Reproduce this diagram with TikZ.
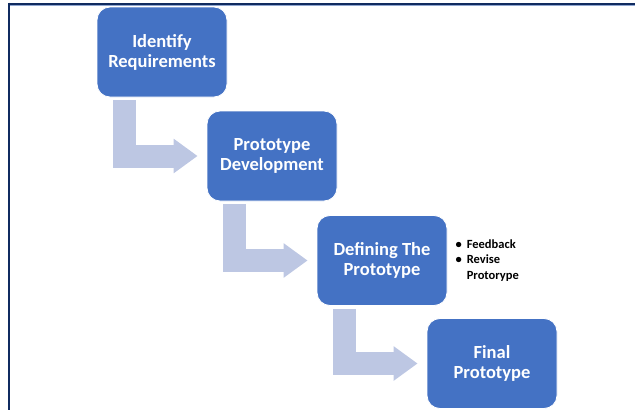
\documentclass[tikz,border=0pt]{standalone}
\usepackage{fontspec}
\setmainfont{Carlito}
\usetikzlibrary{arrows.meta}
\definecolor{boxblue}{HTML}{4472C4}
\definecolor{arrowblue}{HTML}{BDC7E3}
\definecolor{frameblue}{HTML}{102B60}
\definecolor{framelight}{HTML}{8FA6D0}
\tikzset{
  stepbox/.style={draw=white, line width=0.8pt, fill=boxblue, rounded corners=13pt,
    minimum width=130pt, minimum height=90pt, text=white, align=center,
    font=\fontsize{18.5}{20}\selectfont\bfseries, inner sep=0pt},
  conn/.style={draw=arrowblue, line width=23pt, line join=miter,
    -{Triangle[length=24pt,width=33pt]}},
  bullets/.style={font=\fontsize{12.5}{15.5}\selectfont\bfseries, inner sep=0pt, anchor=north west}
}
\begin{document}
\begin{tikzpicture}[x=1pt,y=-1pt]
\useasboundingbox (0,0) rectangle (635,410);
% frame
\draw[framelight, line width=1pt] (9,5.2) -- (635,5.2);
\draw[frameblue, line width=2pt] (8,3.5) -- (635,3.5);
\draw[frameblue, line width=2pt] (9,2.5) -- (9,410);
% boxes
\node[stepbox] (b1) at (162,52) {Identify\\Requirements};
\node[stepbox] (b2) at (272,156) {Prototype\\Development};
\node[stepbox] (b3) at (382,260.5) {Defining The\\Prototype};
\node[stepbox] (b4) at (492,363.5) {Final\\Prototype};
% connectors
\draw[conn] ([xshift=27.5pt,yshift=-3pt]b1.south west) |- ([xshift=-9pt]b2.west);
\draw[conn] ([xshift=27.5pt,yshift=-3pt]b2.south west) |- ([xshift=-9pt]b3.west);
\draw[conn] ([xshift=27.5pt,yshift=-3pt]b3.south west) |- ([xshift=-9pt]b4.west);
% bullet list
\node[bullets] (fb) at ([xshift=8pt,yshift=-22pt]b3.north east)
  {\begin{tabular}{@{}l@{\hspace{5pt}}l@{}}\textbullet & Feedback\\ \textbullet & Revise\\ & Protorype\end{tabular}};
\end{tikzpicture}
\end{document}
